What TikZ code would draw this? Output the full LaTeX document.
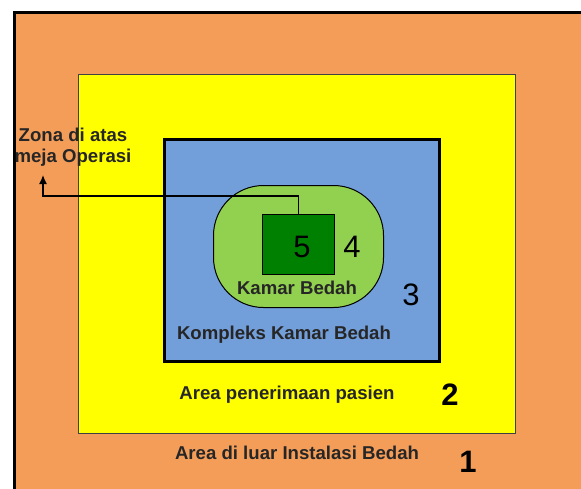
\documentclass[tikz,border=0pt]{standalone}
\usepackage{fontspec}
\setmainfont{Liberation Sans}
\usetikzlibrary{arrows.meta}

\definecolor{luar}{RGB}{244,157,89}
\definecolor{terima}{RGB}{255,255,0}
\definecolor{kompleks}{RGB}{114,158,218}
\definecolor{kamar}{RGB}{146,208,80}
\definecolor{meja}{RGB}{0,128,0}

\tikzset{
  zone/.style={draw,inner sep=0pt,anchor=north west},
  label/.style={font=\fontsize{18.6}{21}\selectfont\bfseries,text=black!85},
  bignum/.style={font=\fontsize{31}{32}\selectfont},
}

\begin{document}
\begin{tikzpicture}[x=1pt,y=-1pt]
\useasboundingbox (0,0) rectangle (581,488);
\clip (0,0) rectangle (581,488);

\begin{scope}[every node/.style={zone}]
  \node[fill=luar,line width=3pt,minimum width=600pt,minimum height=520pt] (zone1) at (13,11) {};
  \node[fill=terima,draw=black!75,line width=1.2pt,minimum width=437pt,minimum height=359pt] (zone2) at (78,74) {};
  \node[fill=kompleks,line width=3pt,minimum width=275pt,minimum height=222pt] (zone3) at (163,138) {};
  \node[fill=kamar,line width=1pt,rounded corners=50pt,minimum width=170pt,minimum height=122pt] (zone4) at (213,185) {};
  \node[fill=meja,line width=1pt,minimum width=72pt,minimum height=60pt] (op) at (262,214) {};
\end{scope}

\begin{scope}[every node/.style={label}]
  \node[align=center] (zona) at (73,147) {Zona di atas\\meja Operasi};
  \node (kamarlbl) at (297,288) {Kamar Bedah};
  \node (kompleksl) at (284,335) {Kompleks Kamar Bedah};
  \node (terimal) at (287,395) {Area penerimaan pasien};
  \node (luarl) at (297,453) {Area di luar Instalasi Bedah};
\end{scope}

\node[bignum] (n5) at (302,247) {5};
\node[bignum] (n4) at (352,247) {4};
\node[bignum] (n3) at (411,295) {3};
\node[bignum,font=\fontsize{31}{32}\selectfont\bfseries] (n2) at (450,395) {2};
\node[bignum,font=\fontsize{31}{32}\selectfont\bfseries] (n1) at (468,462) {1};

\coordinate (tip) at (43,175);
\draw[line width=1.3pt,-{Latex[length=9pt,width=8pt]}] (op.north) -- ++(0,-18) -| (tip);
\end{tikzpicture}
\end{document}
